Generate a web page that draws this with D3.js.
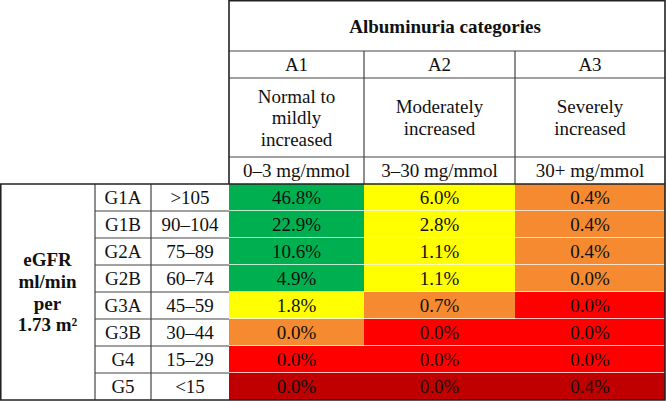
<!DOCTYPE html>
<html>
<head>
<meta charset="utf-8">
<script src="https://cdn.jsdelivr.net/npm/d3@7"></script>
<style>
  html, body { margin: 0; padding: 0; background: #fff; }
  svg { display: block; }
  text { font-family: "Liberation Serif", "Times New Roman", serif; font-size: 19px; fill: #111; }
</style>
</head>
<body>
<svg id="chart" width="666" height="401"></svg>
<script>
// ---------------- data ----------------
const headerTitle = "Albuminuria categories";
const columns = ["A1", "A2", "A3"];
const columnDescriptions = [["Normal to", "mildly", "increased"], ["Moderately", "increased"], ["Severely", "increased"]];
const columnRanges = ["0–3 mg/mmol", "3–30 mg/mmol", "30+ mg/mmol"];
const rowLabelLines = ["eGFR", "ml/min", "per", "1.73 m²"];
const rows = ["G1A", "G1B", "G2A", "G2B", "G3A", "G3B", "G4", "G5"];
const rowRanges = [">105", "90–104", "75–89", "60–74", "45–59", "30–44", "15–29", "<15"];
const valuesA1 = [46.8, 22.9, 10.6, 4.9, 1.8, 0.0, 0.0, 0.0];
const valuesA2 = [6.0, 2.8, 1.1, 1.1, 0.7, 0.0, 0.0, 0.0];
const valuesA3 = [0.4, 0.4, 0.4, 0.0, 0.0, 0.0, 0.0, 0.4];
const riskA1 = [0, 0, 0, 0, 1, 2, 3, 4];
const riskA2 = [1, 1, 1, 1, 2, 3, 3, 4];
const riskA3 = [2, 2, 2, 2, 3, 3, 3, 4];
const riskColors = ["#00B050", "#FFFF00", "#F58A31", "#FF0000", "#C00000"];

// ---------------- layout ----------------
const svg = d3.select("#chart");
const colEdges = [229, 364, 515, 665];      // data columns
const labelEdges = [0, 95, 151, 229];       // row label columns
const headEdges = [0, 51, 78, 157, 184];    // header rows
const lineH = 21.7, baseOff = 6.8;

const values = [valuesA1, valuesA2, valuesA3];
const risks = [riskA1, riskA2, riskA3];

const y = d3.scaleBand().domain(rows).range([184, 400]).paddingInner(0).paddingOuter(0);
const x = d3.scaleOrdinal().domain(columns).range(colEdges.slice(0, 3));
const xw = d3.scaleOrdinal().domain(columns).range(colEdges.slice(1).map((e, i) => e - colEdges[i]));
const color = d3.scaleOrdinal().domain(d3.range(riskColors.length)).range(riskColors);

const cells = [];
columns.forEach((c, ci) => rows.forEach((r, ri) => cells.push({ col: c, row: r, value: values[ci][ri], risk: risks[ci][ri] })));

// cells
svg.append("g").selectAll("rect").data(cells).join("rect")
  .attr("x", d => x(d.col)).attr("y", d => y(d.row))
  .attr("width", d => xw(d.col)).attr("height", y.bandwidth())
  .attr("fill", d => color(d.risk));

// white separators between data rows
svg.append("g").selectAll("line").data(rows.slice(1)).join("line")
  .attr("x1", colEdges[0]).attr("x2", colEdges[3])
  .attr("y1", d => y(d) - 0.5).attr("y2", d => y(d) - 0.5)
  .attr("stroke", "rgba(255,255,255,0.75)").attr("stroke-width", 1);

svg.append("g").selectAll("text").data(cells).join("text")
  .attr("x", d => x(d.col) + xw(d.col) / 2)
  .attr("y", d => y(d.row) + y.bandwidth() / 2 + baseOff)
  .attr("text-anchor", "middle")
  .text(d => d3.format(".1f")(d.value) + "%");

// grid lines
const grid = svg.append("g").attr("stroke", "#444").attr("stroke-width", 1.2).attr("fill", "none");
// header horizontal lines
headEdges.slice(1, 4).forEach(h => grid.append("line").attr("x1", colEdges[0]).attr("x2", colEdges[3]).attr("y1", h).attr("y2", h));
// header vertical lines
colEdges.slice(1, 3).forEach(e => grid.append("line").attr("x1", e).attr("x2", e).attr("y1", headEdges[1]).attr("y2", headEdges[4]));
// label column verticals
labelEdges.slice(1, 3).forEach(e => grid.append("line").attr("x1", e).attr("x2", e).attr("y1", 184).attr("y2", 400));
// label row horizontals
rows.slice(1).forEach(r => grid.append("line").attr("x1", labelEdges[1]).attr("x2", labelEdges[3]).attr("y1", y(r)).attr("y2", y(r)));
// outer border
svg.append("path")
  .attr("d", `M${colEdges[0]},0.75 H${colEdges[3]} V400 H0.75 V184 H${colEdges[0]} Z M${colEdges[0]},184 H${colEdges[3]}`)
  .attr("fill", "none").attr("stroke", "#222").attr("stroke-width", 1.6);

// header texts
svg.append("text").attr("x", 445).attr("y", 32.5).attr("text-anchor", "middle")
  .attr("font-weight", "bold").text(headerTitle);

columns.forEach((c, ci) => {
  const cx = x(c) + xw(c) / 2;
  svg.append("text").attr("x", cx).attr("y", (headEdges[1] + headEdges[2]) / 2 + baseOff)
    .attr("text-anchor", "middle").text(c);
  const lines = columnDescriptions[ci];
  const mid = (headEdges[2] + headEdges[3]) / 2;
  lines.forEach((l, li) => {
    svg.append("text").attr("x", cx)
      .attr("y", mid + (li - (lines.length - 1) / 2) * lineH + baseOff)
      .attr("text-anchor", "middle").text(l);
  });
  svg.append("text").attr("x", cx).attr("y", (headEdges[3] + headEdges[4]) / 2 + baseOff)
    .attr("text-anchor", "middle").text(columnRanges[ci]);
});

// row labels
rows.forEach((r, ri) => {
  const cy = y(r) + y.bandwidth() / 2 + baseOff;
  svg.append("text").attr("x", (labelEdges[1] + labelEdges[2]) / 2).attr("y", cy)
    .attr("text-anchor", "middle").text(r);
  svg.append("text").attr("x", (labelEdges[2] + labelEdges[3]) / 2).attr("y", cy)
    .attr("text-anchor", "middle").text(rowRanges[ri]);
});
const rowMid = 292;
rowLabelLines.forEach((l, li) => {
  svg.append("text").attr("x", (labelEdges[0] + labelEdges[1]) / 2)
    .attr("y", rowMid + (li - (rowLabelLines.length - 1) / 2) * lineH + baseOff)
    .attr("text-anchor", "middle").attr("font-weight", "bold").text(l);
});
</script>
</body>
</html>
